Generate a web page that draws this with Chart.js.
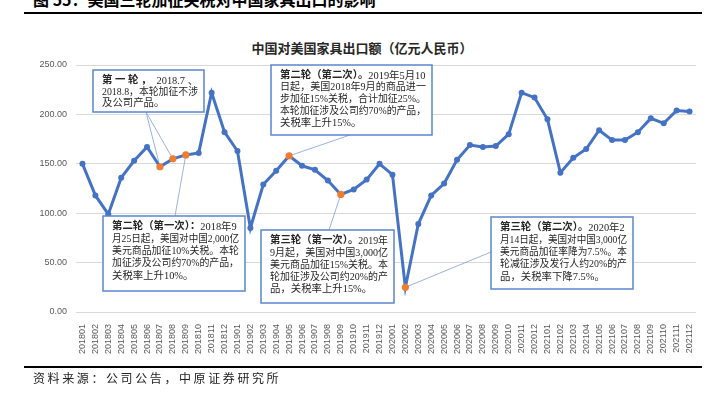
<!DOCTYPE html>
<html lang="zh-CN">
<head>
<meta charset="utf-8">
<title>中国对美国家具出口额</title>
<script src="https://cdn.jsdelivr.net/npm/chart.js@4.4.1/dist/chart.umd.min.js"></script>
<style>
    html, body { margin: 0; padding: 0; background: #fff; }
    body { width: 716px; height: 394px; position: relative; overflow: hidden; font-family: 'Noto Sans CJK SC', sans-serif; }
    #grafik { position: absolute; left: 0; top: 0; }
    .judul { position: absolute; left: 33px; top: -9px; font-size: 16px; line-height: 16px; font-weight: bold; color: #000; white-space: nowrap; }
    .garis { position: absolute; left: 24px; width: 678px; height: 2px; background: #000; }
    .judulChart { position: absolute; left: 4px; width: 716px; top: 41px; text-align: center; font-size: 13px; line-height: 14px; font-weight: bold; color: #262626; }
    .sumber { position: absolute; left: 33px; top: 371px; font-size: 12px; line-height: 14px; letter-spacing: 2.6px; color: #222; white-space: nowrap; }
</style>
</head>
<body>
<div class="judul">图 55：美国三轮加征关税对中国家具出口的影响</div>
<div class="garis" style="top:12px"></div>
<div class="judulChart">中国对美国家具出口额（亿元人民币）</div>
<canvas id="grafik" width="716" height="394"></canvas>
<div class="garis" style="top:366px"></div>
<div class="sumber">资料来源：公司公告，中原证券研究所</div>

<script>
// --- 1. DATA ---
const months = [
    '201801', '201802', '201803', '201804', '201805', '201806', '201807', '201808', '201809', '201810', '201811', '201812',
    '201901', '201902', '201903', '201904', '201905', '201906', '201907', '201908', '201909', '201910', '201911', '201912',
    '202001', '202002', '202003', '202004', '202005', '202006', '202007', '202008', '202009', '202010', '202011', '202012',
    '202101', '202102', '202103', '202104', '202105', '202106', '202107', '202108', '202109', '202110', '202111', '202112'
];
const exportValues = [
    150, 118, 99, 136, 153, 167, 147, 155, 159, 161, 222, 182,
    163, 85, 129, 143, 158, 148, 144, 133, 119, 124, 134, 150,
    139, 25, 89, 118, 130, 154, 169, 167, 168, 180, 222, 217,
    195, 141, 156, 165, 184, 174, 174, 182, 196, 191, 204, 203
];
// titik yang ditandai oranye (bulan kebijakan tarif)
const tariffMonths = ['201807', '201808', '201809', '201905', '201909', '202002'];
const yMin = 0, yMax = 250, yStep = 50;

// teks anotasi: bagian tebal + baris biasa
const noteTexts = [
    { bold: '第 一 轮 ，', lines: ['  2018.7 、', '2018.8，本轮加征不涉', '及公司产品。'], months: ['201807', '201808'] },
    { bold: '第二轮（第二次）。', lines: ['2019年5月10', '日起，美国2018年9月的商品进一', '步加征15%关税，合计加征25%。', '本轮加征涉及公司约70%的产品，', '关税率上升15%。'], months: ['201905'] },
    { bold: '第二轮（第一次）：', lines: ['2018年9', '月25日起，美国对中国2,000亿', '美元商品加征10%关税。本轮', '加征涉及公司约70%的产品，', '关税率上升10%。'], months: ['201809'] },
    { bold: '第三轮（第一次）。', lines: ['2019年', '9月起，美国对中国3,000亿', '美元商品加征15%关税。本', '轮加征涉及公司约20%的产', '品，关税率上升15%。'], months: ['201909'] },
    { bold: '第三轮（第二次）。', lines: ['2020年2', '月14日起，美国对中国3,000亿', '美元商品加征率降为7.5%。本', '轮减征涉及发行人约20%的产', '品，关税率下降7.5%。'], months: ['202002'] }
];

// posisi kotak anotasi (piksel) & titik awal garis penunjuk
const noteLayout = [
    { x: 93, y: 70, w: 111, h: 42, ax: 146, ay: 112, lh: 11.3 },
    { x: 271, y: 65, w: 161, h: 70, ax: 350, ay: 135, lh: 11.9 },
    { x: 103, y: 216, w: 142, h: 75, ax: 175, ay: 216, lh: 12.3 },
    { x: 261, y: 230, w: 133, h: 73, ax: 329, ay: 230, lh: 12.1 },
    { x: 491, y: 217, w: 142, h: 72, ax: 491, ay: 252, lh: 12.3 }
];

const BLUE = '#4472C4';
const ORANGE = '#ED7D31';
const NOTE_FONT = "'Liberation Serif', 'Noto Sans CJK SC', serif";
const NOTE_SIZE = 10.4;

// --- 2. PLUGIN ANOTASI ---
const notePlugin = {
    id: 'notes',
    beforeDatasetsDraw(chart) {
        const ctx = chart.ctx;
        const pts = chart.getDatasetMeta(0).data;
        ctx.save();
        ctx.strokeStyle = '#8faadc';
        ctx.lineWidth = 0.9;
        noteTexts.forEach((n, k) => {
            const b = noteLayout[k];
            n.months.forEach(m => {
                const p = pts[months.indexOf(m)];
                ctx.beginPath();
                ctx.moveTo(b.ax, b.ay);
                ctx.lineTo(p.x, p.y);
                ctx.stroke();
            });
        });
        ctx.restore();
    },
    afterDatasetsDraw(chart) {
        const ctx = chart.ctx;
        ctx.save();
        noteTexts.forEach((n, k) => {
            const b = noteLayout[k];
            ctx.fillStyle = '#fff';
            ctx.fillRect(b.x, b.y, b.w, b.h);
            ctx.strokeStyle = '#5b85d0';
            ctx.lineWidth = 1.5;
            ctx.strokeRect(b.x, b.y, b.w, b.h);

            ctx.fillStyle = '#262626';
            ctx.textBaseline = 'middle';
            const tx = b.x + 9;
            const maxW = b.w - 15;
            n.lines.forEach((line, i) => {
                const ty = b.y + 10.8 + i * b.lh;
                if (i === 0) {
                    ctx.font = 'bold ' + NOTE_SIZE + 'px ' + NOTE_FONT;
                    ctx.fillText(n.bold, tx, ty);
                    const bw = ctx.measureText(n.bold).width;
                    ctx.font = NOTE_SIZE + 'px ' + NOTE_FONT;
                    ctx.fillText(line, tx + bw, ty, maxW - bw);
                } else {
                    ctx.font = NOTE_SIZE + 'px ' + NOTE_FONT;
                    ctx.fillText(line, tx, ty, maxW);
                }
            });
        });
        ctx.restore();
    }
};

// --- 3. GRAFIK ---
const isTariff = months.map(m => tariffMonths.includes(m));

new Chart(document.getElementById('grafik'), {
    type: 'line',
    data: {
        labels: months,
        datasets: [{
            data: exportValues,
            borderColor: BLUE,
            borderWidth: 3,
            tension: 0,
            pointBackgroundColor: isTariff.map(t => t ? ORANGE : BLUE),
            pointBorderWidth: 0,
            pointRadius: isTariff.map(t => t ? 3.6 : 3),
            pointHoverRadius: 3
        }]
    },
    options: {
        responsive: false,
        animation: false,
        devicePixelRatio: 1,
        layout: { padding: { left: 0, right: 20, top: 65, bottom: 32 } },
        plugins: {
            legend: { display: false },
            title: { display: false },
            tooltip: { enabled: false }
        },
        scales: {
            x: {
                offset: true,
                grid: { display: false },
                border: { display: false },
                ticks: {
                    autoSkip: false,
                    maxRotation: 90,
                    minRotation: 90,
                    padding: 4,
                    color: '#595959',
                    font: { family: 'Liberation Sans', size: 9 }
                },
                afterFit: s => { s.height = 50; }
            },
            y: {
                min: yMin,
                max: yMax,
                grid: { color: '#d9d9d9', drawTicks: false },
                border: { display: false },
                ticks: {
                    stepSize: yStep,
                    padding: 9,
                    color: '#595959',
                    font: { family: 'Liberation Sans', size: 9 },
                    callback: v => v.toFixed(2)
                },
                afterFit: s => { s.width = 76; }
            }
        }
    },
    plugins: [notePlugin]
});
</script>
</body>
</html>
